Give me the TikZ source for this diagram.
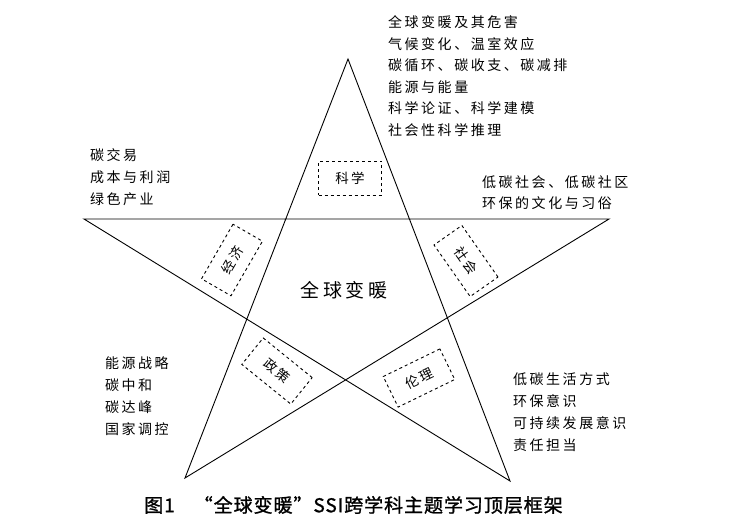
\documentclass[tikz,border=0pt]{standalone}
\usepackage{fontspec}
\usepackage{tikz}
\usetikzlibrary{calc,positioning}
\newfontfamily\songti[LetterSpace=18]{Noto Sans CJK SC}
\newfontfamily\heiti[LetterSpace=5,FakeBold=1.2]{Noto Sans CJK SC}
\tikzset{
	x=1pt, y=-1pt,
	star line/.style={draw, line width=0.9pt, line join=miter},
	topic/.style={font=\songti\fontsize{14}{22}\selectfont, align=left, anchor=west, inner sep=0pt},
	field/.style={draw, dashed, line width=0.9pt, minimum width=63pt, minimum height=34pt, inner sep=0pt, font=\songti\fontsize{13.5}{16}\selectfont},
}

\begin{document}
\begin{tikzpicture}
	\useasboundingbox (0,0) rectangle (756,528);
	% star
	\coordinate (top) at (348,59);
	\coordinate (left) at (84,219);
	\coordinate (right) at (609,219);
	\coordinate (bl) at (185,478);
	\coordinate (br) at (510,481);
	\draw[star line] (top) -- (br) -- (left) -- (right) -- (bl) -- cycle;

	\node[font=\songti\fontsize{19}{20}\selectfont, inner sep=0pt] (core) at (344,290) {全球变暖};

	% fields
	\node[field] (science) at (350,178) {科学};
	\node[field, rotate=60] (economy) at (232,260) {经济};
	\node[field, rotate=-55] (society) at (466,261) {社会};
	\node[field, rotate=-39] (policy) at (277,371) {政策};
	\node[field, rotate=26] (ethics) at (419,378) {伦理};

	% topics
	\node[topic, font=\songti\fontsize{14}{21.6}\selectfont] (scitopic) at (388,76) {全球变暖及其危害\\气候变化、温室效应\\碳循环、碳收支、碳减排\\能源与能量\\科学论证、科学建模\\社会性科学推理};
	\node[topic] (ecotopic) at (90,177.5) {碳交易\\成本与利润\\绿色产业};
	\node[topic, font=\songti\fontsize{14}{21}\selectfont] (soctopic) at (482,192.5) {低碳社会、低碳社区\\环保的文化与习俗};
	\node[topic] (poltopic) at (105,396.5) {能源战略\\碳中和\\碳达峰\\国家调控};
	\node[topic] (ethtopic) at (513,412) {低碳生活方式\\环保意识\\可持续发展意识\\责任担当};

	\node[font=\heiti\fontsize{19}{20}\selectfont, inner sep=0pt] (caption) at (353.5,505) {图1\quad“全球变暖”SSI跨学科主题学习顶层框架};
\end{tikzpicture}
\end{document}
